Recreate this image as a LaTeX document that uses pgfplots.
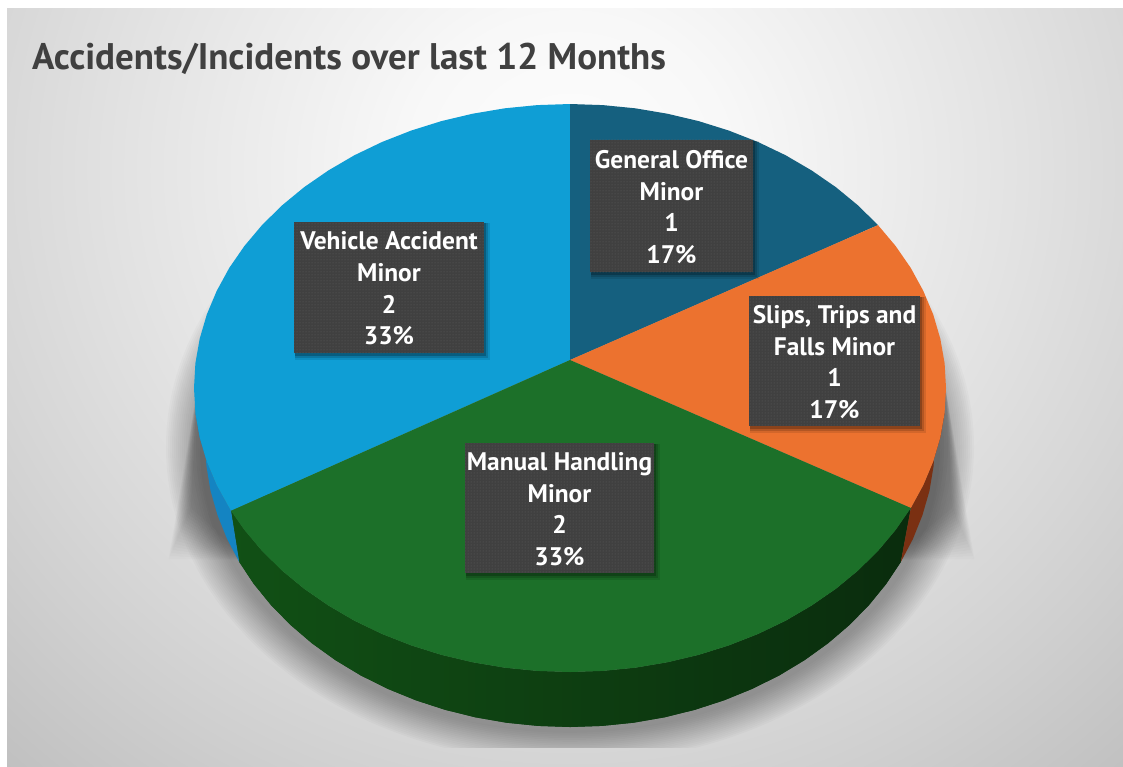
\documentclass[border=0pt]{standalone}
\usepackage{pgfplots}
\pgfplotsset{compat=1.18}
\usepackage{fontspec}
\setmainfont{PT Sans}
\usetikzlibrary{patterns}
\definecolor{g1}{HTML}{FDFDFD}
\definecolor{g2}{HTML}{F8F8F8}
\definecolor{g3}{HTML}{E3E3E3}
\definecolor{g4}{HTML}{D6D6D6}
\definecolor{g5}{HTML}{CFCFCF}
\definecolor{g6}{HTML}{C0C0C0}
\pgfdeclareradialshading{bgshade}{\pgfpoint{0bp}{0bp}}{
 color(0bp)=(g1); color(4bp)=(g2); color(11bp)=(g3); color(15bp)=(g4); color(17bp)=(g5); color(21bp)=(g6); color(50bp)=(g6)}
\definecolor{cBlue}{HTML}{0F9ED5}
\definecolor{cDark}{HTML}{15607F}
\definecolor{cOrange}{HTML}{EC722F}
\definecolor{cGreen}{HTML}{1C7029}
\definecolor{cBlueS}{HTML}{1484C2}
\definecolor{cOrangeS}{HTML}{7A3012}
\definecolor{cBox}{HTML}{404040}
\definecolor{cTitle}{HTML}{404040}
\newcommand{\labelbox}[5]{%
  \fill[black,opacity=.10] (#1+1,#2+1) rectangle (#3+6,#4+7);
  \fill[black,opacity=.15] (#1+1,#2+1) rectangle (#3+4,#4+5);
  \fill[black,opacity=.22] (#1+1,#2+1) rectangle (#3+2,#4+3);
  \fill[cBox] (#1,#2) rectangle (#3,#4);
  \path[pattern=dots,pattern color=white!16!cBox] (#1,#2) rectangle (#3,#4);
  \node[text=white,align=center,font=\fontsize{25.4}{31.7}\selectfont\bfseries,inner sep=0pt] at ({(#1+#3)/2},{(#2+#4)/2+1}) {#5};
}
\begin{document}
\begin{tikzpicture}
\begin{scope}[x=1pt,y=-1pt]
  \useasboundingbox (0,0) rectangle (1123,767);
  \fill[white] (0,0) rectangle (1123,767);
  \begin{scope}
    \clip (7,9) rectangle (1123,767);
    \fill[g6] (7,9) rectangle (1123,767);
    \path[shading=bgshade] (570,170) ellipse [x radius=1000, y radius=962];
    % soft shadow below the pie
    \begin{scope}
      \clip (0,0) rectangle (1123,747);
      \foreach \i in {1,...,18} {
        \fill[black,opacity=.020] (570,447) ellipse [x radius={368+2*\i}, y radius={284+1.8*\i}];
        \fill[black,opacity=.014] (198,385) -- ({192-1.3*\i},{505+3*\i}) -- (250,560) -- (300,385) -- cycle;
        \fill[black,opacity=.014] (945,385) -- ({951+1.3*\i},{505+3*\i}) -- (890,560) -- (840,385) -- cycle;
      }
    \end{scope}
  \end{scope}
\end{scope}
\begin{axis}[at={(0pt,-767pt)},anchor=south west,scale only axis,width=1123pt,height=767pt,
  xmin=0,xmax=1123,ymin=0,ymax=767,y dir=reverse,hide axis,clip=false]
% side wall: Manual Handling
\addplot[draw=none,fill=cGreen!60!black,mark=none,forget plot,left color={rgb,255:red,17;green,80;blue,21},middle color={rgb,255:red,10;green,52;blue,14},right color={rgb,255:red,10;green,44;blue,13}] coordinates {
(910.8,508)(895.6,530)(878,550.9)(858,570.6)(835.9,588.8)(811.7,605.5)(785.7,620.7)(758,634)(728.9,645.4)(698.6,654.9)(667.3,662.3)(635.3,667.7)(602.8,670.9)(570,672)(537.2,670.9)(504.7,667.7)(472.7,662.3)(441.4,654.9)(411.1,645.4)(382,634)(354.3,620.7)(328.3,605.5)(304.1,588.8)(282,570.6)(262,550.9)(244.4,530)(231,510.8)
(239.2,561.9)(253.9,584)(271,605)(290.4,624.8)(311.9,643.2)(335.4,660.1)(360.6,675.3)(387.5,688.7)(415.7,700.2)(445.2,709.8)(475.5,717.3)(506.6,722.7)(538.2,725.9)(570,727)(601.8,725.9)(633.4,722.7)(664.5,717.3)(694.8,709.8)(724.3,700.2)(752.5,688.7)(779.4,675.3)(804.6,660.1)(828.1,643.2)(849.6,624.8)(869,605)(886.1,584)(900.8,561.9)
} --cycle;
% side wall: Vehicle Accident
\addplot[draw=none,fill=cBlueS,mark=none,forget plot] coordinates {
(231,510.8)(216.7,485.1)(206.8,461.5)(199.7,437.3)(195.4,412.8)
(205,441)(206.4,465.9)(210.5,490.6)(217.5,515)(227,538.8)(239.2,561.9)
} --cycle;
% side wall: Slips, Trips and Falls
\addplot[draw=none,fill=cOrangeS,mark=none,forget plot] coordinates {
(910.8,508)(923.3,485.1)(933.2,461.5)(940.3,437.3)(944.6,412.8)
(935,441)(933.6,465.9)(929.5,490.6)(922.5,515)(913,538.8)(900.8,561.9)
} --cycle;
% top: Vehicle Accident, 2
\addplot[draw=none,fill=cBlue,mark=none,forget plot] coordinates {
(570,360)(231,510.8)(216.7,485.1)(206.8,461.5)(199.7,437.3)(195.4,412.8)(194,388)(195.4,363.2)(199.7,338.7)(206.8,314.5)(216.7,290.9)(229.2,268)(244.4,246)(262,225.1)(282,205.4)(304.1,187.2)(328.3,170.5)(354.3,155.3)(382,142)(411.1,130.6)(441.4,121.1)(472.7,113.7)(504.7,108.3)(537.2,105.1)(570,104)
} --cycle;
% top: General Office, 1
\addplot[draw=none,fill=cDark,mark=none,forget plot] coordinates {
(570,360)(570,104)(602.8,105.1)(635.3,108.3)(667.3,113.7)(698.6,121.1)(728.9,130.6)(758,142)(785.7,155.3)(811.7,170.5)(835.9,187.2)(858,205.4)(878,225.1)
} --cycle;
% top: Slips, Trips and Falls, 1
\addplot[draw=none,fill=cOrange,mark=none,forget plot] coordinates {
(570,360)(878,225.1)(895.6,246)(910.8,268)(923.3,290.9)(933.2,314.5)(940.3,338.7)(944.6,363.2)(946,388)(944.6,412.8)(940.3,437.3)(933.2,461.5)(923.3,485.1)(910.8,508)
} --cycle;
% top: Manual Handling, 2
\addplot[draw=none,fill=cGreen,mark=none,forget plot] coordinates {
(570,360)(910.8,508)(895.6,530)(878,550.9)(858,570.6)(835.9,588.8)(811.7,605.5)(785.7,620.7)(758,634)(728.9,645.4)(698.6,654.9)(667.3,662.3)(635.3,667.7)(602.8,670.9)(570,672)(537.2,670.9)(504.7,667.7)(472.7,662.3)(441.4,654.9)(411.1,645.4)(382,634)(354.3,620.7)(328.3,605.5)(304.1,588.8)(282,570.6)(262,550.9)(244.4,530)(231,510.8)
} --cycle;
\end{axis}
\begin{scope}[x=1pt,y=-1pt]
  \labelbox{294}{222}{484}{353}{Vehicle Accident\\Minor\\2\\33\%}
  \labelbox{590}{140}{753}{272}{General Office\\Minor\\1\\17\%}
  \labelbox{749}{296}{920}{426}{Slips, Trips and\\Falls Minor\\1\\17\%}
  \labelbox{465}{443}{654}{573}{Manual Handling\\Minor\\2\\33\%}
  \node[anchor=base west,inner sep=0pt,text=cTitle,font=\fontsize{37}{44}\selectfont\bfseries] at (32,70) {Accidents/Incidents over last 12 Months};
\end{scope}
\end{tikzpicture}
\end{document}
